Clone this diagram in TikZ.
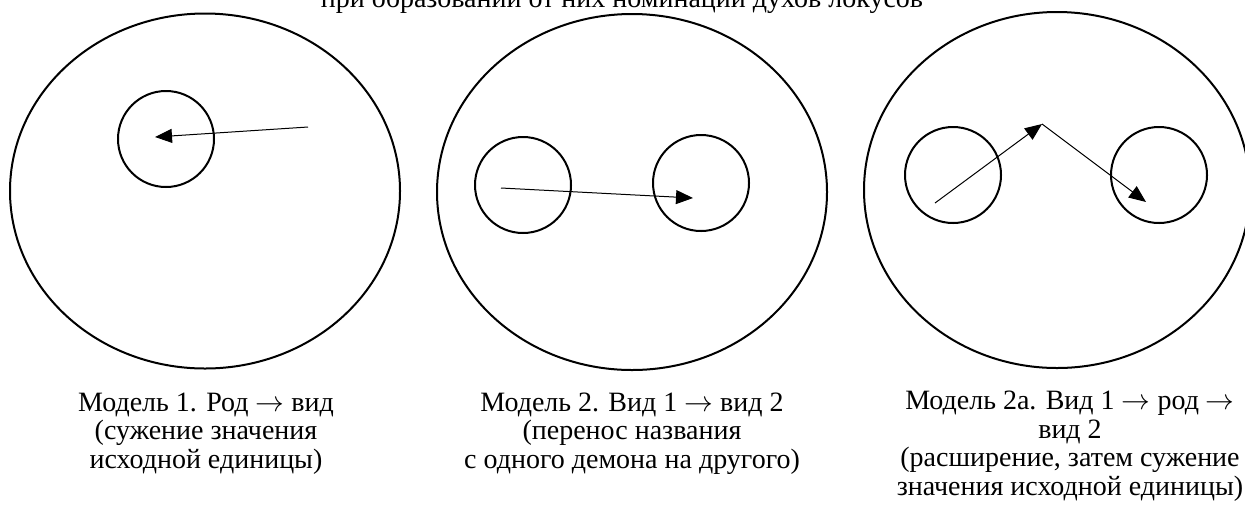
\documentclass[tikz,border=0pt]{standalone}
\usepackage{fontspec}
\setmainfont{Liberation Serif}
\usetikzlibrary{shapes.geometric,arrows.meta}

\newcommand{\shiftto}{$\rightarrow$}

\tikzset{
  field/.style={ellipse, draw, line width=1pt, inner sep=0pt},
  sense/.style={circle, draw, line width=1pt, inner sep=0pt, minimum size=48pt},
  shift arrow/.style={line width=0.5pt, -{Triangle[length=8.5pt,width=7pt]}},
  caption/.style={align=center, anchor=base, font=\fontsize{14}{14.2}\selectfont}
}

\begin{document}
\begin{tikzpicture}[x=0.5pt, y=-0.5pt]
\useasboundingbox (0,0) rectangle (1245,510);

% Heading, cut at the top edge
\node[anchor=base, font=\fontsize{14}{14.2}\selectfont] (title) at (622,7)
  {при образовании от них номинаций духов локусов};

% Model 1
\node[field, minimum width=195pt, minimum height=177.5pt] (field1) at (205,191) {};
\node[sense] (kind1) at (166,139) {};
\coordinate (start1) at (308,127);
\coordinate (end1) at (155,137);
\draw[shift arrow] (start1) -- (end1);

% Model 2
\node[field, minimum width=195pt, minimum height=178pt] (field2) at (632,192) {};
\node[sense] (kind2a) at (523,185) {};
\node[sense] (kind2b) at (701,183) {};
\coordinate (start2) at (501,188);
\coordinate (end2) at (693,198);
\draw[shift arrow] (start2) -- (end2);

% Model 2a
\node[field, minimum width=193pt, minimum height=178pt] (field3) at (1057,190) {};
\node[sense] (kind3a) at (953,175) {};
\node[sense] (kind3b) at (1159,175) {};
\coordinate (start3) at (935,203);
\coordinate (genus3) at (1042,124);
\coordinate (end3) at (1146,202);
\draw[shift arrow] (start3) -- (genus3);
\draw[shift arrow] (genus3) -- (end3);

% Captions (anchored at the baseline of their last line)
\node[caption] (cap1) at (206,468)
  {Модель 1. Род \shiftto{} вид\\(сужение значения\\исходной единицы)};
\node[caption] (cap2) at (632,468)
  {Модель 2. Вид 1 \shiftto{} вид 2\\(перенос названия\\с одного демона на другого)};
\node[caption] (cap3) at (1070,495)
  {Модель 2а. Вид 1 \shiftto{} род \shiftto\\вид 2\\(расширение, затем сужение\\значения исходной единицы)};
\end{tikzpicture}
\end{document}
